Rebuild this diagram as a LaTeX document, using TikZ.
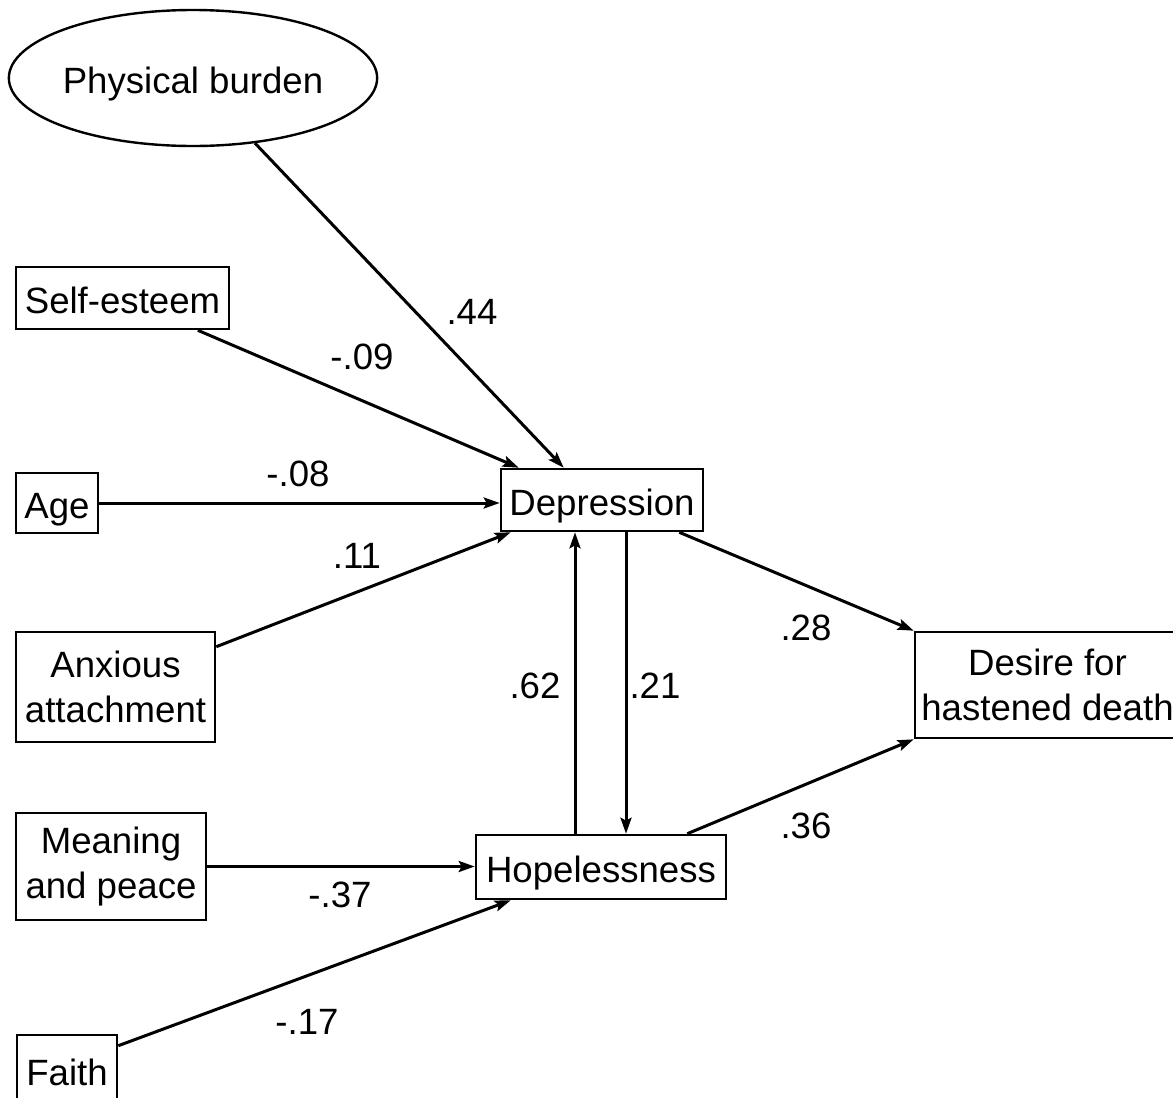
\documentclass[tikz,border=0pt]{standalone}
\usepackage{fontspec}
\setmainfont{Liberation Sans}
\usetikzlibrary{shapes.geometric,arrows.meta}
\begin{document}
\begin{tikzpicture}[x=1pt,y=-1pt,
  every node/.style={font=\fontsize{36.6}{45}\selectfont, inner sep=0pt},
  box/.style={draw, line width=2.6pt, align=center, text height=34pt, text depth=4pt},
  mbox/.style={draw, line width=2.6pt, align=center},
  arr/.style={line width=3pt, -{Stealth[length=16pt,width=11pt,inset=3pt]}},
  lab/.style={}]
\useasboundingbox (0,0) rectangle (1173,1098);
\clip (0,0) rectangle (1173,1098);
\fill[white] (0,0) rectangle (1173,1098);
% nodes
\node[draw, line width=2.4pt, ellipse, minimum width=357pt, minimum height=136pt, text height=34pt, text depth=4pt] (pb) at (193,78) {Physical burden};
\node[box, minimum width=213pt, minimum height=62pt] (se) at (122.5,298) {Self-esteem};
\node[box, minimum width=82pt, minimum height=60pt] (age) at (57,503) {Age};
\node[mbox, minimum width=199pt, minimum height=110pt] (anx) at (115.5,687) {Anxious\\attachment};
\node[mbox, minimum width=190pt, minimum height=107pt] (mp) at (111,866.5) {Meaning\\and peace};
\node[box, minimum width=100pt, minimum height=70pt] (fa) at (67,1070) {Faith};
\node[box, minimum width=202pt, minimum height=62pt] (dep) at (602,500) {Depression};
\node[box, minimum width=250pt, minimum height=64pt] (hop) at (601,867) {Hopelessness};
\node[mbox, minimum width=265pt, minimum height=106pt] (des) at (1047.5,685) {Desire for\\hastened death};
% connectors
\draw[arr] (pb) -- ([xshift=64pt]dep.north west);
\draw[arr] (se) -- ([xshift=19pt]dep.north west);
\draw[arr] (age.east) -- (age.east -| dep.west);
\draw[arr] ([yshift=-16pt]anx.north east) -- ([xshift=11pt]dep.south west);
\coordinate (u1) at ([xshift=-26pt]hop.north);
\draw[arr] (u1) -- (u1 |- dep.south);
\coordinate (d1) at ([xshift=24pt]dep.south);
\draw[arr] (d1) -- (d1 |- hop.north);
\draw[arr] ([xshift=-25pt]dep.south east) -- (des.north west);
\draw[arr] ([xshift=-40pt]hop.north east) -- (des.south west);
\draw[arr] (mp.east) -- (mp.east -| hop.west);
\draw[arr] ([yshift=-12pt]fa.north east) -- ([xshift=36pt]hop.south west);
% labels
\node[lab] (l44) at (472,312) {.44};
\node[lab] (l09) at (362,357) {-.09};
\node[lab] (l08) at (298,474) {-.08};
\node[lab] (l11) at (357,556) {.11};
\node[lab] (l28) at (806,628) {.28};
\node[lab] (l62) at (535,686) {.62};
\node[lab] (l21) at (655,686) {.21};
\node[lab] (l36) at (806,826) {.36};
\node[lab] (l37) at (340,895) {-.37};
\node[lab] (l17) at (307,1022) {-.17};
\end{tikzpicture}
\end{document}
